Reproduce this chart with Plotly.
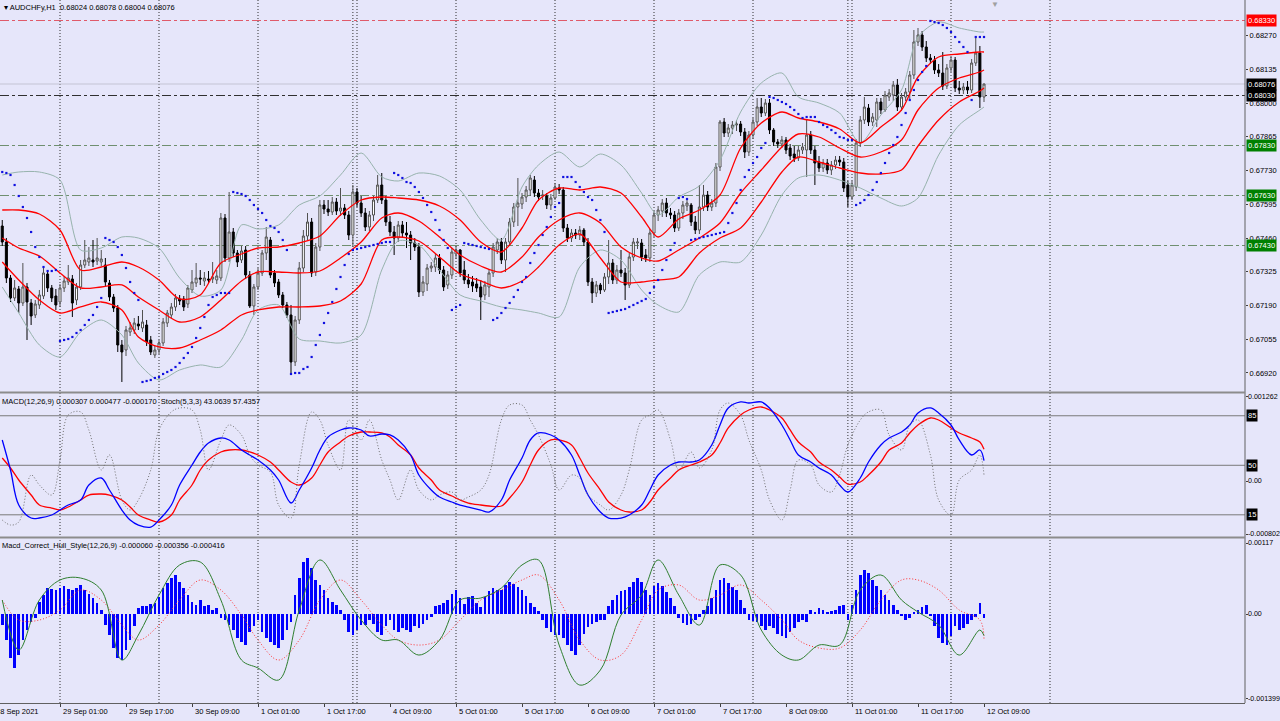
import plotly.graph_objects as go

# ---------------- DATA (prices in points, 1 point = 0.00001) ----------------
opens = [67508,67444,67300,67220,67256,67200,67264,67200,67152,67192,
67228,67316,67260,67228,67204,67260,67284,67296,67212,67264,
67352,67364,67372,67368,67364,67352,67280,67224,67180,67032,
67012,67084,67092,67116,67100,67112,67052,66992,67012,67040,
67120,67152,67184,67216,67216,67196,67252,67280,67300,67288,
67296,67296,67292,67300,67540,67380,67484,67400,67372,67412,
67312,67188,67264,67320,67400,67452,67320,67284,67232,67192,
67152,66964,67132,67340,67468,67524,67324,67424,67592,67576,
67564,67604,67568,67580,67552,67472,67644,67600,67560,67504,
67552,67612,67672,67612,67524,67484,67460,67512,67480,67472,
67440,67424,67244,67276,67340,67344,67380,67332,67272,67312,
67396,67412,67332,67292,67284,67276,67264,67232,67264,67320,
67412,67444,67372,67444,67524,67584,67596,67624,67652,67692,
67640,67628,67628,67592,67620,67660,67652,67500,67460,67480,
67472,67492,67444,67284,67240,67272,67252,67304,67360,67292,
67332,67320,67272,67384,67440,67440,67392,67380,67480,67552,
67568,67600,67560,67552,67500,67560,67588,67592,67524,67492,
67584,67632,67584,67600,67744,67924,67880,67900,67912,67916,
67884,67804,67872,67924,67984,67960,68000,67892,67844,67836,
67852,67820,67796,67780,67812,67812,67872,67812,67764,67740,
67760,67732,67752,67772,67764,67672,67624,67664,67840,67932,
67980,67924,67932,68004,67972,68024,68032,68072,67984,68024,
68044,68112,68244,68272,68224,68180,68172,68132,68120,68068,
68140,68172,68060,68052,68064,68052,68160,68200,68024]
highs = [67532,67460,67312,67292,67268,67360,67280,67216,67212,67252,
67344,67332,67272,67256,67276,67308,67352,67312,67280,67372,
67452,67424,67452,67460,67412,67380,67292,67236,67192,67052,
67108,67124,67140,67148,67172,67132,67068,67028,67052,67140,
67172,67200,67236,67232,67228,67272,67332,67360,67332,67324,
67328,67364,67332,67560,67556,67644,67500,67412,67428,67428,
67328,67276,67340,67412,67504,67464,67332,67296,67244,67204,
67192,67148,67364,67492,67560,67540,67440,67612,67612,67612,
67624,67620,67660,67596,67568,67672,67660,67628,67580,67568,
67628,67712,67720,67628,67548,67508,67528,67528,67524,67488,
67460,67440,67308,67356,67364,67396,67396,67348,67328,67420,
67428,67416,67368,67316,67308,67300,67292,67288,67336,67440,
67460,67460,67460,67540,67600,67700,67640,67668,67712,67708,
67656,67652,67640,67636,67680,67676,67664,67516,67496,67496,
67508,67500,67460,67300,67288,67280,67320,67452,67376,67352,
67412,67340,67400,67460,67460,67456,67416,67496,67568,67588,
67616,67620,67580,67568,67576,67608,67616,67600,67548,67672,
67672,67648,67616,67760,67932,67940,67916,67928,67932,67928,
67900,67888,67940,68020,68020,68016,68016,67900,67856,67868,
67864,67836,67828,67828,67840,67932,67888,67828,67788,67776,
67776,67768,67788,67788,67780,67688,67688,67856,67948,68024,
67996,67960,68020,68020,68048,68056,68088,68096,68040,68060,
68128,68292,68300,68288,68248,68196,68188,68156,68204,68156,
68188,68184,68088,68080,68088,68176,68260,68228,68078]
lows = [67428,67280,67204,67208,67160,67188,67052,67112,67140,67176,
67216,67244,67204,67172,67184,67244,67272,67144,67192,67252,
67340,67348,67344,67352,67348,67268,67208,67164,67004,66884,
66988,67068,67076,67092,67084,67028,66992,66980,66996,67028,
67104,67140,67168,67192,67168,67180,67240,67264,67272,67268,
67276,67280,67276,67288,67364,67364,67384,67344,67360,67296,
67180,67152,67252,67308,67372,67300,67264,67220,67180,67140,
66920,66948,67116,67324,67452,67304,67308,67408,67556,67548,
67552,67552,67548,67536,67452,67424,67584,67544,67488,67488,
67528,67600,67596,67508,67468,67392,67444,67464,67420,67372,
67408,67224,67228,67248,67324,67324,67316,67248,67256,67296,
67376,67304,67276,67260,67244,67244,67132,67212,67224,67304,
67396,67356,67324,67428,67504,67508,67576,67604,67628,67624,
67608,67612,67576,67572,67612,67636,67484,67444,67444,67456,
67452,67428,67268,67200,67224,67236,67244,67276,67276,67276,
67304,67212,67260,67368,67416,67368,67364,67364,67464,67528,
67544,67544,67536,67484,67488,67536,67568,67508,67476,67476,
67568,67568,67568,67584,67728,67864,67864,67876,67888,67868,
67780,67788,67856,67908,67944,67948,67876,67828,67820,67820,
67796,67772,67764,67768,67796,67704,67796,67672,67724,67724,
67716,67712,67736,67748,67644,67584,67612,67648,67824,67916,
67908,67908,67904,67956,67964,68008,68008,67968,67968,68008,
68016,68096,68228,68208,68164,68156,68116,68104,68052,68056,
68124,68044,68036,68036,68036,68040,68148,67980,68004]
closes = [67444,67300,67220,67260,67200,67264,67204,67148,67196,67232,
67320,67260,67220,67192,67260,67288,67300,67200,67264,67352,
67372,67380,67364,67380,67376,67284,67224,67180,67032,67004,
67092,67100,67120,67108,67124,67044,67004,67012,67040,67124,
67160,67184,67220,67208,67184,67260,67284,67300,67296,67300,
67292,67304,67308,67540,67380,67484,67400,67364,67408,67312,
67188,67264,67320,67400,67464,67312,67280,67232,67192,67152,
66964,67132,67340,67468,67524,67320,67424,67592,67576,67564,
67604,67568,67580,67552,67472,67644,67600,67560,67504,67552,
67612,67672,67612,67524,67484,67460,67512,67480,67472,67440,
67424,67244,67284,67340,67348,67380,67332,67264,67312,67404,
67412,67320,67292,67276,67268,67260,67224,67272,67320,67424,
67444,67372,67444,67524,67584,67600,67624,67652,67700,67640,
67624,67632,67592,67620,67664,67652,67500,67460,67480,67472,
67492,67444,67284,67240,67272,67252,67304,67360,67292,67332,
67320,67272,67384,67444,67444,67384,67380,67480,67552,67572,
67600,67560,67552,67500,67560,67592,67600,67524,67492,67584,
67632,67584,67600,67744,67924,67880,67900,67912,67916,67884,
67804,67872,67924,67984,67960,68000,67892,67844,67836,67852,
67812,67788,67780,67812,67824,67872,67812,67760,67740,67760,
67732,67752,67772,67764,67660,67624,67672,67840,67932,67984,
67924,67944,68004,67972,68032,68040,68072,67984,68024,68044,
68112,68244,68272,68224,68180,68172,68132,68120,68068,68140,
68172,68060,68052,68064,68052,68160,68200,68024,68076]

# Parabolic SAR (points), one per bar
sar = [67724,67720,67712,67672,67628,67584,67540,67484,67424,67384,67344,67328,67328,67332,
67048,67052,67056,67064,67080,67092,67112,67132,67152,67184,67220,
67460,67452,67444,67424,67392,67340,67284,67240,67212,
66884,66888,66892,66900,66904,66916,66924,66932,66944,66960,66980,67000,67024,67060,67100,67144,67192,67224,67232,67240,67240,67240,
67644,67640,67636,67628,67612,67592,67576,67560,67532,67508,67500,67484,67452,67412,
66916,66920,66920,66936,66944,66984,67032,67072,67120,67160,67204,67256,67304,67352,67396,67412,67416,67420,67424,67428,67432,67436,67440,67444,67444,
67720,67712,67700,67684,67680,67664,67644,67620,67592,67564,67532,67492,67452,67420,
67172,67184,67192,
67440,67436,67432,67428,67424,67420,67416,
67132,67140,67160,67180,67200,67224,67252,67284,67304,67360,67400,67432,67472,67504,67544,67584,67600,
67704,67704,67704,67684,67664,67644,67624,67612,67572,67532,67484,
67160,67164,67168,67172,67176,67184,67192,67200,67208,67216,67240,67264,67292,67332,67372,67412,67440,
67620,67624,67616,
67452,67456,67460,67464,67468,67472,67476,67480,67484,67520,67560,67600,67652,
67704,67732,67760,67784,67820,67840,
68024,68020,68012,68004,67996,67984,67972,67956,67940,67944,67944,67944,67924,67912,67904,67892,67880,67864,67860,67852,67852,
67592,67600,67612,67632,67652,67684,67720,67760,67800,67832,67864,67912,67960,68012,68052,68092,68124,68148,
68328,68324,68320,68312,68300,68284,68264,68244,68224,68204,
68012,68264,68264,68264]

# band samples (bar index) and values (points)
band_idx = [0,4,9,14,19,24,29,33,38,43,48,53,58,62,67,72,77,82,87,92,96,101,106,111,116,
            121,126,130,135,140,145,150,155,159,164,169,174,179,184,189,193,198,203,208,213,
            218,222,227,232,237,238]
env_upper = [67572,67572,67556,67492,67332,67344,67364,67344,67292,67216,67232,67360,67396,67420,67424,
             67440,67468,67552,67612,67624,67620,67612,67588,67532,67444,67404,67500,67612,67660,67652,
             67664,67640,67544,67464,67536,67572,67632,67820,67920,67964,67940,67924,67896,67840,67904,
             67972,68104,68184,68196,68204,68204]
env_mid = [67460,67420,67388,67320,67260,67264,67272,67224,67172,67124,67144,67212,67288,67324,67324,
           67320,67328,67380,67444,67540,67560,67528,67464,67392,67348,67324,67384,67464,67532,67560,
           67520,67424,67380,67368,67412,67460,67520,67640,67732,67824,67876,67864,67820,67784,67804,
           67852,67972,68060,68100,68124,68132]
env_lower = [67364,67292,67212,67160,67184,67204,67172,67064,67024,67020,67052,67092,67152,67172,67184,
             67184,67188,67208,67276,67452,67464,67448,67384,67316,67288,67260,67288,67344,67432,67476,
             67380,67284,67284,67292,67304,67400,67460,67500,67604,67724,67784,67764,67740,67720,67716,
             67732,67828,67932,68004,68048,68060]
bb_upper = [67712,67724,67724,67692,67412,67420,67464,67460,67420,67300,67228,67252,67512,67496,67512,
            67592,67628,67712,67800,67704,67688,67720,67708,67652,67532,67452,67664,67752,67804,67744,
            67796,67752,67640,67552,67624,67668,67772,67964,68080,68120,68024,68000,67960,67840,67952,
            68052,68264,68324,68300,68284,68284]
bb_lower = [67264,67160,67032,66984,67084,67132,67072,66960,66892,66932,66952,66944,67052,67172,67192,
            67056,67048,67040,67072,67332,67448,67432,67332,67232,67208,67184,67172,67160,67144,67344,
            67412,67372,67252,67192,67164,67312,67364,67364,67472,67632,67700,67712,67692,67660,67620,
            67588,67620,67792,67912,67972,67984]

# MACD / Stochastic samples
ind_idx = [0,2,4,7,9,12,14,16,19,21,24,26,29,31,33,36,38,41,43,46,48,50,53,55,58,60,62,65,67,70,
           72,75,77,79,82,84,87,89,92,94,96,99,101,104,106,109,111,113,116,118,121,123,126,128,130,
           133,135,138,140,142,145,147,150,152,155,157,159,162,164,167,169,172,174,176,179,181,184,
           186,189,191,193,196,198,201,203,205,208,210,213,215,218,220,222,225,227,230,232,235,237,238]
macd_main = [615,165,-360,-555,-555,-510,-435,-360,-285,-60,
             45,-135,-435,-585,-660,-690,-585,-360,-60,240,
             435,570,645,615,465,390,315,165,15,-330,
             -135,195,465,660,765,795,765,675,705,690,
             615,390,90,-135,-240,-315,-360,-390,-435,-465,
             -285,15,345,615,720,690,615,390,90,-210,
             -465,-555,-555,-510,-360,-135,90,240,285,285,
             315,540,840,1095,1185,1170,1185,1095,840,615,
             390,285,195,90,-60,-165,45,285,540,645,
             735,840,1020,1095,1020,840,615,390,465,307]
macd_signal = [345,195,15,-210,-360,-405,-435,-390,-285,-210,
               -195,-210,-285,-390,-510,-585,-615,-510,-285,-60,
               165,315,435,465,465,435,390,285,165,-15,
               -60,45,240,435,585,675,735,735,720,660,
               540,390,195,15,-135,-225,-285,-330,-360,-375,
               -375,-255,-15,240,465,615,615,540,345,120,
               -135,-315,-435,-465,-435,-315,-135,45,165,240,
               285,390,570,795,990,1065,1110,1065,945,765,
               585,435,285,165,60,-45,-15,90,285,465,
               570,720,840,945,915,795,720,645,585,477]
stoch_main = [11.3,7.8,9.9,43.1,36.1,29.0,53.7,85.5,87.7,74.9,
              46.7,57.3,25.5,18.4,25.5,46.7,74.9,87.7,90.5,89.1,
              74.9,46.7,67.9,78.5,71.4,57.3,50.2,45.2,21.9,12.7,
              50.2,87.7,82.0,64.3,46.7,82.0,67.9,82.0,53.7,39.6,
              25.5,46.7,32.5,25.5,29.0,31.1,25.5,27.6,32.5,43.1,
              82.0,92.6,92.6,82.0,71.4,50.2,32.5,43.1,41.0,29.0,
              21.9,18.4,29.0,46.7,82.0,85.5,89.1,67.9,46.7,59.4,
              48.1,60.8,89.1,94.0,85.5,67.9,46.7,25.5,11.3,32.5,
              53.7,50.2,36.1,31.1,43.1,64.3,82.0,87.7,89.1,71.4,
              60.8,78.5,82.0,57.3,25.5,14.8,39.6,46.7,57.3,43.06]

# Macd_Correct_Hull_Style values (x 1e-6)
hull_hist = [-182,-429,-726,-891,-677,-429,-264,-132,-66,198,
314,429,413,396,429,462,413,396,429,479,
396,330,264,182,66,-182,-347,-561,-726,-759,
-594,-429,-198,99,132,132,165,182,281,429,
512,594,644,528,429,314,198,149,231,132,
149,66,99,-66,-99,-182,-264,-396,-462,-512,
-297,-198,-99,-297,-396,-462,-512,-561,-429,-264,
-132,314,594,858,924,759,561,479,396,264,
198,149,66,-99,-297,-347,-264,-182,-182,-99,
-165,-297,-347,-198,-99,-264,-297,-231,-264,-297,
-198,-231,-165,-99,-50,132,149,182,231,330,
396,264,165,281,297,182,116,281,380,429,
396,396,479,528,495,446,396,297,182,116,
50,-99,-231,-297,-347,-347,-396,-512,-611,-677,
-512,-330,-215,-165,-132,-99,-99,132,231,314,
380,396,446,528,594,528,396,314,462,512,
462,363,264,132,-66,-149,-182,-165,-99,-50,
66,132,264,396,561,594,512,446,396,231,
99,-99,-116,-132,-198,-264,-198,-231,-330,-363,
-396,-297,-231,-132,-99,-132,66,33,99,66,
33,50,66,132,149,-99,149,396,644,726,
677,561,462,396,314,231,149,66,-17,-99,
-66,33,66,116,149,-17,-198,-396,-479,-512,
-363,-198,-264,-231,-165,-99,-50,182,-60]
hull_green = [231,-594,231,561,594,396,-759,-347,314,809,858,231,-759,-891,-1089,66,891,396,-99,-429,
              -429,-677,-429,231,264,429,809,891,-512,-1172,-924,-17,314,891,314,-182,809,644,-264,-677,
              -759,-512,-512,396,644,231,33,-182,-677,-264,-356]
hull_red = [231,-99,-99,66,396,231,-182,-429,-182,231,561,396,-17,-429,-759,-429,231,561,231,-182,
            -429,-512,-429,-99,231,396,561,644,231,-429,-759,-677,-99,396,479,231,314,479,231,-99,
            -429,-561,-561,-264,231,561,561,396,66,-99,-416]

# levels and labels
main_levels = [68330, 68030, 67830, 67630, 67430]
level_colors = ["#e05a6a", "#303030", "#6f8f6f", "#6f8f6f", "#6f8f6f"]
bid_price = 68076
box_prices = [68330, 68076, 68030, 67830, 67630, 67430]
box_colors = ["#ff0000", "#000000", "#000000", "#008000", "#008000", "#008000"]
main_ticks = [68270, 68135, 68000, 67865, 67730, 67595, 67460, 67325, 67190, 67055, 66920]
stoch_levels = [85, 50, 15]
macd_ticks = [0.001262, 0.0, -0.000802]
macd_ticktext = ["0.001262", "0.00", "-0.000802"]
hull_ticks = [0.00117, 0.0, -0.001399]
hull_ticktext = ["0.00117", "0.00", "-0.001399"]
time_idx = [14, 30, 46, 62, 78, 94, 110, 126, 142, 158, 174, 190, 206, 222, 238]
time_text = ["29 Sep 01:00", "29 Sep 17:00", "30 Sep 09:00", "1 Oct 01:00", "1 Oct 17:00",
             "4 Oct 09:00", "5 Oct 01:00", "5 Oct 17:00", "6 Oct 09:00", "7 Oct 01:00",
             "7 Oct 17:00", "8 Oct 09:00", "11 Oct 01:00", "11 Oct 17:00", "12 Oct 09:00"]
grid_idx = [14, 38, 62, 86, 110, 134, 158, 182, 206, 230, 254]
week_sep_idx = [85, 205]

# ---------------- FIGURE ----------------
P = 1e-5
M = 1e-6
bars = list(range(len(opens)))
BG = "#E6E6FA"
FONT = "Liberation Sans"
FS = 7.5
FSA = 7.1

fig = go.Figure()
fig.add_trace(go.Candlestick(
    x=bars, open=[v * P for v in opens], high=[v * P for v in highs],
    low=[v * P for v in lows], close=[v * P for v in closes],
    increasing=dict(line=dict(color="#505050", width=1), fillcolor="#ffffff"),
    decreasing=dict(line=dict(color="#000000", width=1), fillcolor="#000000"),
    whiskerwidth=0, xaxis="x", yaxis="y", showlegend=False, hoverinfo="skip"))

for vals in (bb_upper, bb_lower):
    fig.add_trace(go.Scatter(x=band_idx, y=[v * P for v in vals], mode="lines",
                             line=dict(color="#97b3ad", width=1, shape="spline", smoothing=0.8),
                             xaxis="x", yaxis="y", showlegend=False, hoverinfo="skip"))
for vals in (env_upper, env_mid, env_lower):
    fig.add_trace(go.Scatter(x=band_idx, y=[v * P for v in vals], mode="lines",
                             line=dict(color="#ff0000", width=1.3, shape="spline", smoothing=0.8),
                             xaxis="x", yaxis="y", showlegend=False, hoverinfo="skip"))
fig.add_trace(go.Scatter(x=bars, y=[v * P for v in sar], mode="markers",
                         marker=dict(color="#1010e0", size=2.2, symbol="square", line=dict(width=0)),
                         xaxis="x", yaxis="y", showlegend=False, hoverinfo="skip"))

# MACD / Stoch panel
fig.add_trace(go.Scatter(x=ind_idx, y=stoch_main, mode="lines",
                         line=dict(color="#707070", width=1, dash="1px,2px", shape="spline"),
                         xaxis="x2", yaxis="y4", showlegend=False, hoverinfo="skip"))
fig.add_trace(go.Scatter(x=ind_idx, y=[v * M for v in macd_signal], mode="lines",
                         line=dict(color="#ff0000", width=1.3, shape="spline"),
                         xaxis="x2", yaxis="y2", showlegend=False, hoverinfo="skip"))
fig.add_trace(go.Scatter(x=ind_idx, y=[v * M for v in macd_main], mode="lines",
                         line=dict(color="#0000ff", width=1.3, shape="spline"),
                         xaxis="x2", yaxis="y2", showlegend=False, hoverinfo="skip"))

# Hull panel
fig.add_trace(go.Bar(x=bars, y=[v * M for v in hull_hist], width=0.62,
                     marker=dict(color="#0000ff", line=dict(width=0)),
                     xaxis="x3", yaxis="y3", showlegend=False, hoverinfo="skip"))
fig.add_trace(go.Scatter(x=band_idx, y=[v * M for v in hull_red], mode="lines",
                         line=dict(color="#ff3030", width=1, dash="1px,2px", shape="spline"),
                         xaxis="x3", yaxis="y3", showlegend=False, hoverinfo="skip"))
fig.add_trace(go.Scatter(x=band_idx, y=[v * M for v in hull_green], mode="lines",
                         line=dict(color="#2f7f2f", width=1, shape="spline"),
                         xaxis="x3", yaxis="y3", showlegend=False, hoverinfo="skip"))

XR = [-0.545, 301.27]
D_MAIN = [0.4424, 1.0]
D_MACD = [0.2361, 0.4410]
D_HULL = [0.0, 0.2347]
ax_common = dict(showgrid=False, zeroline=False, showline=False, fixedrange=True)
tick_font = dict(family=FONT, size=FS, color="#000000")

fig.update_layout(
    width=1280, height=721, paper_bgcolor=BG, plot_bgcolor=BG,
    margin=dict(l=0, r=35, t=0, b=18), showlegend=False, bargap=0,
    xaxis=dict(domain=[0, 1], range=XR, anchor="y", showticklabels=False,
               rangeslider=dict(visible=False), **ax_common),
    xaxis2=dict(domain=[0, 1], range=XR, anchor="y2", matches="x", showticklabels=False, **ax_common),
    xaxis3=dict(domain=[0, 1], range=XR, anchor="y3", matches="x", showticklabels=False,
                tickvals=time_idx, ticks="outside", ticklen=3, tickcolor="#404040",
                showgrid=False, zeroline=False, showline=True, linecolor="#606060", linewidth=1),
    yaxis=dict(domain=D_MAIN, range=[0.66844, 0.68412], side="right", anchor="x",
               tickvals=[v * P for v in main_ticks], ticktext=["%.5f" % (v * P) for v in main_ticks],
               ticks="outside", ticklen=2, tickcolor="#404040", tickfont=tick_font, automargin=False,
               **ax_common),
    yaxis2=dict(domain=D_MACD, range=[-0.00084, 0.00132], side="right", anchor="x2",
                tickvals=macd_ticks, ticks="outside", ticklen=2, showticklabels=False,
                tickcolor="#404040", automargin=False, **ax_common),
    yaxis4=dict(range=[-0.7, 101.1], overlaying="y2", anchor="x2", visible=False, **ax_common),
    yaxis3=dict(domain=D_HULL, range=[-0.001468, 0.001254], side="right", anchor="x3",
                tickvals=hull_ticks, ticks="outside", ticklen=2, showticklabels=False,
                tickcolor="#404040", automargin=False, **ax_common),
)

shapes = []
for gi in grid_idx + week_sep_idx:
    shapes.append(dict(type="line", xref="x", yref="paper", x0=gi, x1=gi, y0=0, y1=1,
                       line=dict(color="#303030", width=1, dash="1px,2px"), layer="below"))
for lv, lc in zip(main_levels, level_colors):
    shapes.append(dict(type="line", xref="paper", yref="y", x0=0, x1=1, y0=lv * P, y1=lv * P,
                       line=dict(color=lc, width=1, dash="dashdot"), layer="below"))
shapes.append(dict(type="line", xref="paper", yref="y", x0=0, x1=1, y0=bid_price * P, y1=bid_price * P,
                   line=dict(color="#c4c4d4", width=1), layer="below"))
for sl in stoch_levels:
    shapes.append(dict(type="line", xref="paper", yref="y4", x0=0, x1=1, y0=sl, y1=sl,
                       line=dict(color="#7a7a7a", width=1), layer="below"))
shapes.append(dict(type="line", xref="paper", yref="paper", x0=1, x1=1, y0=0, y1=1,
                   line=dict(color="#606060", width=1)))
for yb in (0.4417, 0.2354):
    shapes.append(dict(type="line", xref="paper", yref="paper", x0=0, x1=1, y0=yb, y1=yb,
                       line=dict(color="#8c8c8c", width=2)))
fig.update_layout(shapes=shapes)

ann = []
ann.append(dict(xref="paper", yref="paper", x=0.002, y=1, xanchor="left", yanchor="top", yshift=-1,
                text="\u25BE AUDCHFy,H1  0.68024 0.68078 0.68004 0.68076", showarrow=False,
                font=dict(family=FONT, size=FS, color="#000000")))
ann.append(dict(xref="paper", yref="paper", x=0.0, y=D_MACD[1], xanchor="left", yanchor="top", yshift=-2,
                text="MACD(12,26,9) 0.000307 0.000477 -0.000170  Stoch(5,3,3) 43.0639 57.4357",
                showarrow=False, font=dict(family=FONT, size=FS, color="#000000")))
ann.append(dict(xref="paper", yref="paper", x=0.0, y=D_HULL[1], xanchor="left", yanchor="top", yshift=-1,
                text="Macd_Correct_Hull_Style(12,26,9) -0.000060 -0.000356 -0.000416",
                showarrow=False, font=dict(family=FONT, size=FS, color="#000000")))
for tv, tt in zip(macd_ticks, macd_ticktext):
    ann.append(dict(xref="paper", yref="y2", x=1.0, y=tv, xanchor="left", yanchor="middle", xshift=1,
                    text=tt, showarrow=False, font=dict(family=FONT, size=FSA, color="#000000")))
for tv, tt in zip(hull_ticks, hull_ticktext):
    ann.append(dict(xref="paper", yref="y3", x=1.0, y=tv, xanchor="left", yanchor="middle", xshift=1,
                    text=tt, showarrow=False, font=dict(family=FONT, size=FSA, color="#000000")))
for bp, bc in zip(box_prices, box_colors):
    ann.append(dict(xref="paper", yref="y", x=1.0, y=bp * P, xanchor="left", yanchor="middle", xshift=1,
                    text="%.5f" % (bp * P), showarrow=False, bgcolor=bc, borderpad=1,
                    font=dict(family=FONT, size=FS, color="#ffffff")))
for sl in stoch_levels:
    ann.append(dict(xref="paper", yref="y4", x=1.0, y=sl, xanchor="left", yanchor="middle", xshift=1,
                    text=str(sl), showarrow=False, bgcolor="#000000", borderpad=1,
                    font=dict(family=FONT, size=FS, color="#ffffff")))
for ti, tt in zip(time_idx, time_text):
    ann.append(dict(xref="x3", yref="paper", x=ti, y=0, xanchor="left", yanchor="top", xshift=1, yshift=-2,
                    text=tt, showarrow=False, font=dict(family=FONT, size=FS, color="#000000")))
ann.append(dict(xref="paper", yref="paper", x=-0.0052, y=0, xanchor="left", yanchor="top", yshift=-2,
                text="28 Sep 2021", showarrow=False, font=dict(family=FONT, size=FS, color="#000000")))
ann.append(dict(xref="paper", yref="paper", x=0.7995, y=1, xanchor="center", yanchor="top", yshift=2,
                text="\u25BC", showarrow=False, font=dict(family=FONT, size=8, color="#a0a0a0")))
fig.update_layout(annotations=ann)

fig.write_html("out.html", config={"displayModeBar": False},
               post_script="document.body.style.margin='0px';document.body.style.overflow='hidden';")
